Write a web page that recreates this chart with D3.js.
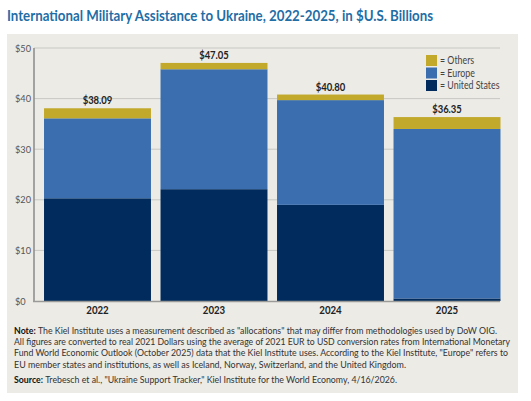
<!DOCTYPE html>
<html>
<head>
<meta charset="utf-8">
<script src="https://cdn.jsdelivr.net/npm/d3@7"></script>
<style>
  body { margin: 0; background: #fff; }
  svg { display: block; font-family: Lato, "Open Sans", sans-serif; }
</style>
</head>
<body>
<div id="chart"></div>
<script>
// data
const years = ["2022", "2023", "2024", "2025"];
const unitedStates = [20.3, 22.1, 19.0, 0.5];
const europe = [15.8, 23.7, 20.7, 33.5];
const others = [1.99, 1.25, 1.10, 2.35];
const totals = ["$38.09", "$47.05", "$40.80", "$36.35"];
const yTicks = [0, 10, 20, 30, 40, 50];
const seriesNames = ["United States", "Europe", "Others"];
const seriesColors = ["#002b5c", "#3a6eae", "#c2a92c"];

const noteLines = [
  [["Note: ", true], ["The Kiel Institute uses a measurement described as \"allocations\" that may differ from methodologies used by DoW OIG.", false]],
  [["All figures are converted to real 2021 Dollars using the average of 2021 EUR to USD conversion rates from International Monetary", false]],
  [["Fund World Economic Outlook (October 2025) data that the Kiel Institute uses. According to the Kiel Institute, \"Europe\" refers to", false]],
  [["EU member states and institutions, as well as Iceland, Norway, Switzerland, and the United Kingdom.", false]]
];
const sourceLine = [["Source: ", true], ["Trebesch et al., \"Ukraine Support Tracker,\" Kiel Institute for the World Economy, 4/16/2026.", false]];

const W = 531, H = 401;
const svg = d3.select("#chart").append("svg")
    .attr("width", W)
    .attr("height", H);

// the original font is narrower than Lato, so squeeze text a bit
function condense(sel, k) {
  sel.each(function() {
    const len = this.getComputedTextLength();
    d3.select(this)
        .attr("textLength", len * k)
        .attr("lengthAdjust", "spacingAndGlyphs");
  });
}

// title
svg.append("text")
    .attr("x", 7)
    .attr("y", 21)
    .attr("fill", "#1f6ea6")
    .attr("font-weight", "bold")
    .attr("font-size", 15.5)
    .attr("textLength", 426)
    .attr("lengthAdjust", "spacingAndGlyphs")
    .text("International Military Assistance to Ukraine, 2022-2025, in $U.S. Billions");

// panel
svg.append("rect")
    .attr("x", 7).attr("y", 34)
    .attr("width", 511).attr("height", 359)
    .attr("fill", "#ecebe6");

const table = years.map((y, i) => ({
  year: y,
  "United States": unitedStates[i],
  "Europe": europe[i],
  "Others": others[i],
  total: totals[i]
}));
const stacked = d3.stack().keys(seriesNames)(table);

const x = d3.scaleBand()
    .domain(years)
    .range([34.7, 509.8])
    .paddingInner(0.082)
    .paddingOuter(0.08);

const y = d3.scaleLinear()
    .domain([0, 50])
    .range([301, 48]);

// gridlines
svg.append("g")
  .selectAll("line")
  .data(yTicks.slice(1))
  .join("line")
    .attr("x1", 34).attr("x2", 500)
    .attr("y1", d => y(d)).attr("y2", d => y(d))
    .attr("stroke", "#c8c8c4")
    .attr("stroke-width", 1);

// y tick labels
svg.append("g")
  .selectAll("text")
  .data(yTicks)
  .join("text")
    .attr("x", 15)
    .attr("y", d => y(d) + 3.5)
    .attr("font-size", 10)
    .attr("fill", "#555")
    .text(d => "$" + d)
    .call(condense, 0.92);

// bars
const color = d3.scaleOrdinal().domain(seriesNames).range(seriesColors);
svg.append("g")
  .selectAll("g")
  .data(stacked)
  .join("g")
    .attr("fill", d => color(d.key))
  .selectAll("rect")
  .data(d => d)
  .join("rect")
    .attr("x", d => x(d.data.year))
    .attr("y", d => y(d[1]))
    .attr("width", x.bandwidth())
    .attr("height", d => y(d[0]) - y(d[1]));

// axes lines
svg.append("line")
    .attr("x1", 34).attr("x2", 34)
    .attr("y1", y(50)).attr("y2", y(0))
    .attr("stroke", "#8a8a88").attr("stroke-width", 1.5);
svg.append("line")
    .attr("x1", 33).attr("x2", 500)
    .attr("y1", y(0) + 0.5).attr("y2", y(0) + 0.5)
    .attr("stroke", "#9a9a98").attr("stroke-width", 1.5);

// totals
svg.append("g")
  .selectAll("text")
  .data(table)
  .join("text")
    .attr("x", d => x(d.year) + x.bandwidth() / 2)
    .attr("y", d => y(d["United States"] + d.Europe + d.Others) - 4)
    .attr("text-anchor", "middle")
    .attr("font-weight", "bold")
    .attr("font-size", 10.5)
    .attr("fill", "#222")
    .text(d => d.total)
    .call(condense, 0.9);

// year labels
svg.append("g")
  .selectAll("text")
  .data(years)
  .join("text")
    .attr("x", d => x(d) + x.bandwidth() / 2)
    .attr("y", 314)
    .attr("text-anchor", "middle")
    .attr("font-weight", "bold")
    .attr("font-size", 10.5)
    .attr("fill", "#222")
    .text(d => d)
    .call(condense, 0.92);

// legend
const legendItems = seriesNames.slice().reverse();
const legend = svg.append("g")
    .attr("transform", "translate(426,55)")
  .selectAll("g")
  .data(legendItems)
  .join("g")
    .attr("transform", (d, i) => `translate(0,${i * 12.5})`);
legend.append("rect")
    .attr("width", 11).attr("height", 11)
    .attr("fill", d => color(d));
legend.append("text")
    .attr("x", 14).attr("y", 9)
    .attr("font-size", 10.5)
    .attr("fill", "#444")
    .text(d => "= " + d)
    .call(condense, 0.84);

// note and source, fitted to the widths of the original lines
const noteWidths = [483, 496, 494, 392];
function richLine(parts, yy, width) {
  const t = svg.append("text")
      .attr("x", 14).attr("y", yy)
      .attr("font-size", 9)
      .attr("fill", "#333")
      .attr("textLength", width)
      .attr("lengthAdjust", "spacingAndGlyphs");
  parts.forEach(p => {
    t.append("tspan")
        .attr("font-weight", p[1] ? "bold" : "normal")
        .attr("fill", p[1] ? "#111" : "#333")
        .text(p[0]);
  });
}
noteLines.forEach((ln, i) => richLine(ln, 333.5 + i * 11.4, noteWidths[i]));
richLine(sourceLine, 382.5, 383);
</script>
</body>
</html>
